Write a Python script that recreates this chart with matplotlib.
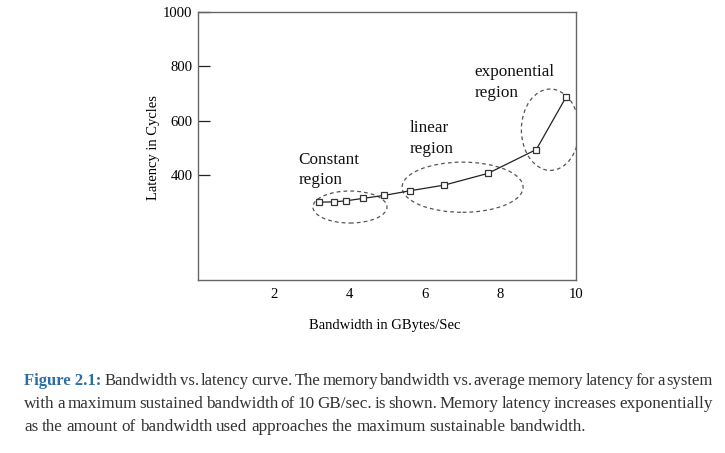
import matplotlib
matplotlib.use("Agg")
import matplotlib.pyplot as plt
from matplotlib.patches import Ellipse

# ---- data ----
bandwidth = [3.21, 3.60, 3.92, 4.37, 4.93, 5.61, 6.52, 7.67, 8.95, 9.74]
latency = [299, 300, 304, 313, 324, 341, 362, 405, 493, 687]
x_ticks = [2, 4, 6, 8, 10]
y_ticks = [400, 600, 800, 1000]
region_labels = [("Constant", "region"), ("linear", "region"), ("exponential", "region")]
region_label_pos = [(2.65, 439, 365), (5.61, 558, 481), (7.31, 763, 687)]
ellipses = [(4.02, 281, 1.96, 118), (7.0, 354, 3.2, 185), (9.32, 566, 1.53, 300)]
x_label = "Bandwidth in GBytes/Sec"
y_label = "Latency in Cycles"
caption_head = "Figure 2.1:"
caption_lines = [
    "Bandwidth vs. latency curve. The memory bandwidth vs. average memory latency for a system",
    "with a maximum sustained bandwidth of 10 GB/sec. is shown. Memory latency increases exponentially",
    "as the amount of bandwidth used approaches the maximum sustainable bandwidth.",
]

W, H = 725, 453
SERIF = ["Liberation Serif", "DejaVu Serif"]
fig = plt.figure(figsize=(W / 100, H / 100), dpi=100)
ax = fig.add_axes([198 / W, 1 - 280 / H, 378 / W, 268 / H])

ax.plot(bandwidth, latency, color="#222222", lw=0.9, marker="s", markersize=4.5,
        markerfacecolor="white", markeredgecolor="#333333", markeredgewidth=0.9)

for (cx, cy, w, h) in ellipses:
    ax.add_patch(Ellipse((cx, cy), w, h, fill=False, ls=(0, (3, 2.5)),
                         edgecolor="#555555", lw=0.9))

for (l1, l2), (tx, y1, y2) in zip(region_labels, region_label_pos):
    ax.text(tx, y1, l1, family=SERIF, fontsize=12.3, va="baseline", ha="left", color="#111111")
    ax.text(tx, y2, l2, family=SERIF, fontsize=12.3, va="baseline", ha="left", color="#111111")

ax.set_xlim(0, 10)
ax.set_ylim(12, 1000)
ax.set_xticks(x_ticks)
ax.set_xticklabels([str(t) for t in x_ticks], family=SERIF, fontsize=10.6)
ax.set_yticks(y_ticks)
ax.set_yticklabels([str(t) for t in y_ticks], family=SERIF, fontsize=10.6)
ax.tick_params(axis="x", length=0, pad=6)
ax.tick_params(axis="y", direction="in", length=8.5, width=0.9, pad=4, color="#222222")
for s in ax.spines.values():
    s.set_color("#666666")
    s.set_linewidth(1.0)

fig.text(385 / W, 1 - 325 / H, x_label, family=SERIF, fontsize=10.5, ha="center", va="center")
fig.text(154 / W, 1 - 148 / H, y_label, family=SERIF, fontsize=10.5, ha="center", va="center",
         rotation=90)

# ---- caption with justified lines ----
renderer = fig.canvas.get_renderer()
CAP_FS = 12.3
x0, x1 = 24, 713
baselines = [385, 408, 431]


def make_words(line, head=None):
    items = []
    if head:
        items.append((head, dict(color="#2a6ea6", weight="bold")))
    for wd in line.split(" "):
        items.append((wd, dict(color="#333333")))
    return items


for i, (line, yb) in enumerate(zip(caption_lines, baselines)):
    items = make_words(line, caption_head if i == 0 else None)
    texts = []
    for wd, props in items:
        t = fig.text(0, 1 - yb / H, wd, family=SERIF, fontsize=CAP_FS, va="baseline",
                     ha="left", **props)
        texts.append(t)
    widths = [t.get_window_extent(renderer).width for t in texts]
    total = sum(widths)
    justify = i < len(caption_lines) - 1
    gaps = [1.0] * (len(texts) - 1)
    if justify:
        if i == 0:
            gaps[0] = 1.6
        space = (x1 - x0 - total) / sum(gaps)
        if space < 2.0:
            # shrink font slightly so the line fits
            scale = (x1 - x0 - 2.0 * sum(gaps)) / total
            for t in texts:
                t.set_fontsize(CAP_FS * scale)
            widths = [t.get_window_extent(renderer).width for t in texts]
            total = sum(widths)
            space = (x1 - x0 - total) / sum(gaps)
    else:
        space = 3.8
    x = x0
    for j, (t, w) in enumerate(zip(texts, widths)):
        t.set_x(x / W)
        if j < len(gaps):
            x += w + space * gaps[j]

fig.savefig("out.png", dpi=100)
